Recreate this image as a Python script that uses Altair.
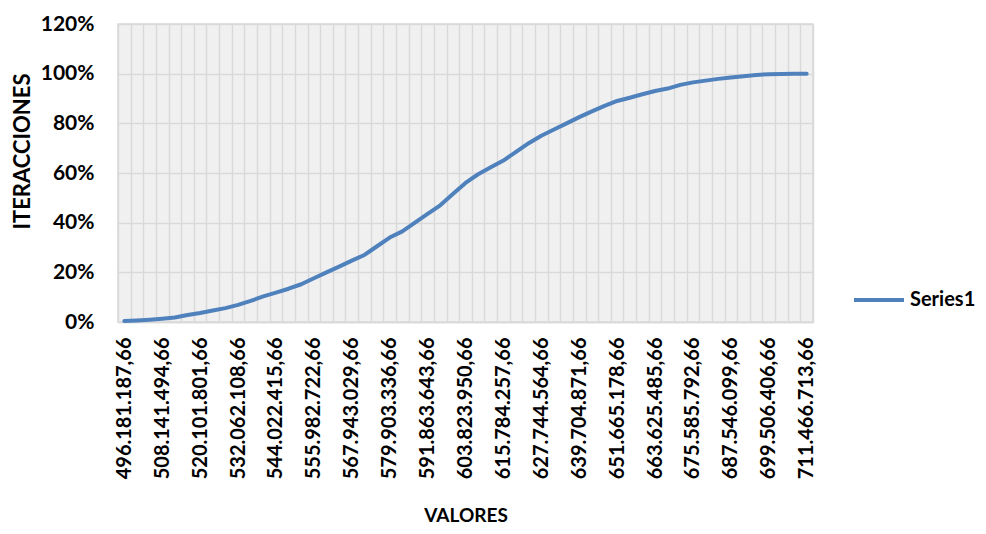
import json
import altair as alt
import pandas as pd

categories = [
    "496.181.187,66", "500.167.956,66", "504.154.725,66", "508.141.494,66",
    "512.128.263,66", "516.115.032,66", "520.101.801,66", "524.088.570,66",
    "528.075.339,66", "532.062.108,66", "536.048.877,66", "540.035.646,66",
    "544.022.415,66", "548.009.184,66", "551.995.953,66", "555.982.722,66",
    "559.969.491,66", "563.956.260,66", "567.943.029,66", "571.929.798,66",
    "575.916.567,66", "579.903.336,66", "583.890.105,66", "587.876.874,66",
    "591.863.643,66", "595.850.412,66", "599.837.181,66", "603.823.950,66",
    "607.810.719,66", "611.797.488,66", "615.784.257,66", "619.771.026,66",
    "623.757.795,66", "627.744.564,66", "631.731.333,66", "635.718.102,66",
    "639.704.871,66", "643.691.640,66", "647.678.409,66", "651.665.178,66",
    "655.651.947,66", "659.638.716,66", "663.625.485,66", "667.612.254,66",
    "671.599.023,66", "675.585.792,66", "679.572.561,66", "683.559.330,66",
    "687.546.099,66", "691.532.868,66", "695.519.637,66", "699.506.406,66",
    "703.493.175,66", "707.479.944,66", "711.466.713,66",
]

shown_labels = [
    "496.181.187,66", "508.141.494,66", "520.101.801,66", "532.062.108,66",
    "544.022.415,66", "555.982.722,66", "567.943.029,66", "579.903.336,66",
    "591.863.643,66", "603.823.950,66", "615.784.257,66", "627.744.564,66",
    "639.704.871,66", "651.665.178,66", "663.625.485,66", "675.585.792,66",
    "687.546.099,66", "699.506.406,66", "711.466.713,66",
]

cumulative = [
    0.004, 0.006, 0.009, 0.013, 0.018, 0.028, 0.036, 0.046, 0.056, 0.069,
    0.085, 0.103, 0.118, 0.134, 0.152, 0.176, 0.200, 0.223, 0.247, 0.270,
    0.305, 0.340, 0.365, 0.400, 0.435, 0.470, 0.515, 0.560, 0.595, 0.623,
    0.650, 0.685, 0.720, 0.750, 0.775, 0.800, 0.825, 0.848, 0.870, 0.890,
    0.903, 0.917, 0.930, 0.940, 0.955, 0.965, 0.972, 0.979, 0.985, 0.990,
    0.995, 0.998, 0.999, 1.000, 1.000,
]

series_name = "Series1"
y_ticks = [0, 0.2, 0.4, 0.6, 0.8, 1.0, 1.2]

df = pd.DataFrame({
    "valor": categories,
    "pct": cumulative,
    "serie": [series_name] * len(categories),
})

label_expr = "indexof(%s, datum.value) >= 0 ? datum.value : ''" % json.dumps(shown_labels)

FONT = "Lato"
GRID = "#d9d9d9"

chart = alt.Chart(df).mark_line(
    strokeWidth=4, strokeCap="round", strokeJoin="round"
).encode(
    x=alt.X(
        "valor:N", sort=None, bandPosition=0.5,
        scale=alt.Scale(type="band", paddingInner=0, paddingOuter=0),
        axis=alt.Axis(
            title="VALORES", labelAngle=-90, labelExpr=label_expr,
            labelOverlap=False, tickBand="extent", grid=True,
            gridColor=GRID, gridWidth=1.5, ticks=False,
            domain=True, domainColor=GRID, domainWidth=1.5,
            labelFont=FONT, labelFontWeight="bold", labelFontSize=20,
            labelColor="#000000", labelPadding=15,
            titleFont=FONT, titleFontWeight="bold", titleFontSize=19,
            titleColor="#000000", titlePadding=28,
        ),
    ),
    y=alt.Y(
        "pct:Q",
        scale=alt.Scale(domain=[0, 1.2], nice=False),
        axis=alt.Axis(
            title="ITERACCIONES", values=y_ticks, format=".0%",
            grid=True, gridColor=GRID, gridWidth=1.5,
            ticks=False, domain=False,
            labelFont=FONT, labelFontWeight="bold", labelFontSize=21,
            labelColor="#000000", labelPadding=24,
            titleFont=FONT, titleFontWeight="bold", titleFontSize=22,
            titleColor="#000000", titleX=-89, titleY=127,
            titleAlign="center", titleBaseline="alphabetic", titleAngle=270,
        ),
    ),
    color=alt.Color(
        "serie:N",
        scale=alt.Scale(range=["#4f81bd"]),
        legend=alt.Legend(
            title=None, orient="none", legendX=734, legendY=249,
            padding=0, symbolType="stroke", symbolSize=2500,
            symbolStrokeWidth=4, labelFont=FONT, labelFontWeight="bold",
            labelFontSize=20, labelColor="#000000", labelOffset=4,
        ),
    ),
).properties(
    width=695,
    height=298,
    padding={"left": 110, "top": 16, "right": 165, "bottom": 210},
    autosize=alt.AutoSizeParams(type="none"),
).configure_view(
    fill="#f0f0f0", stroke=GRID, strokeWidth=1.5
)

chart.save("out.html", embed_options={"renderer": "svg", "actions": False})
